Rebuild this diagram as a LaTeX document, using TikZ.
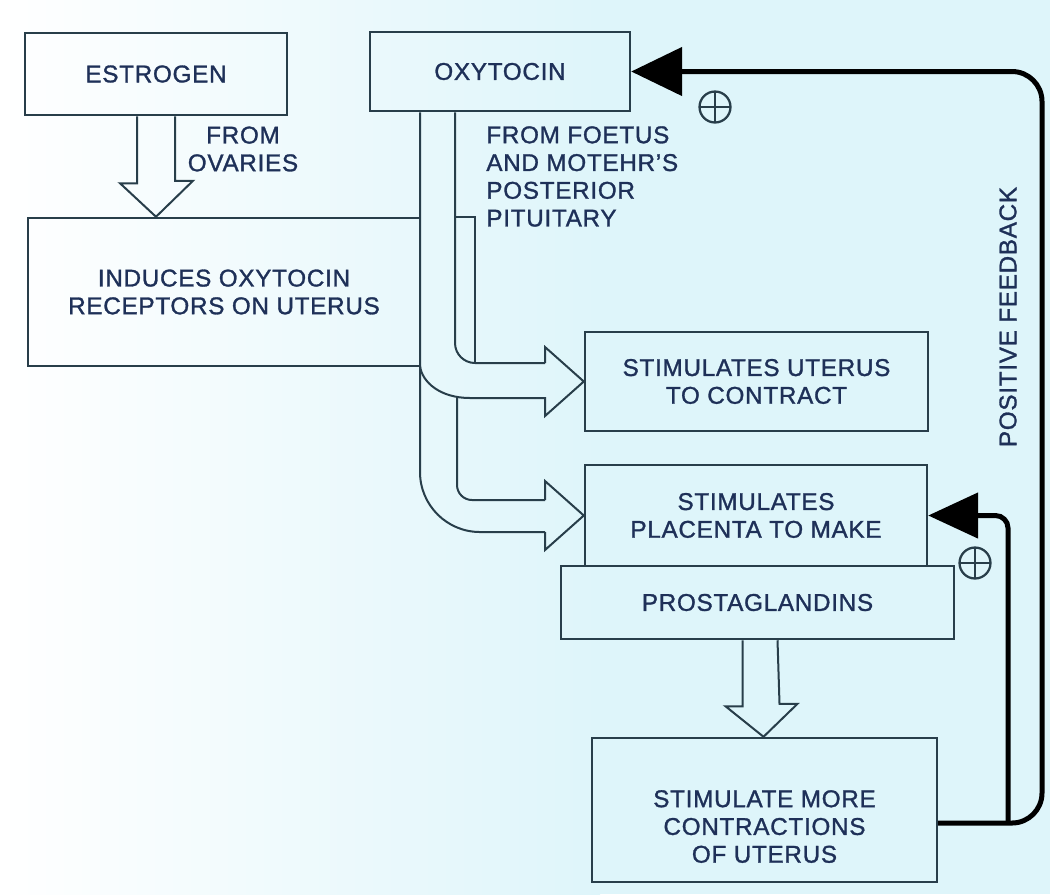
\documentclass[tikz,border=0pt]{standalone}
\usepackage{fontspec}
\setmainfont{Liberation Sans}[LetterSpace=3, FakeBold=1.2]
\usetikzlibrary{arrows.meta,calc}
\definecolor{bgc}{RGB}{222,245,250}
\definecolor{linec}{RGB}{40,62,74}
\definecolor{inkc}{RGB}{30,48,88}

\begin{document}
\begin{tikzpicture}[x=0.02cm, y=-0.02cm,
    font=\fontsize{13.8}{15.8}\selectfont,
    box/.style={draw=linec, line width=0.05cm, text=inkc, align=center, inner sep=0pt},
    pipe/.style={draw=linec, line width=0.04cm, line join=miter},
    fb/.style={draw=black, line width=0.1cm},
    lbl/.style={text=inkc, align=left, inner sep=0pt},
    plusmark/.style={circle, draw=linec, line width=0.045cm, minimum size=0.62cm, inner sep=0pt,
      path picture={\draw[linec, line width=0.045cm]
        (path picture bounding box.north) -- (path picture bounding box.south)
        (path picture bounding box.west) -- (path picture bounding box.east);}}]

    % background
    \shade[left color=white, right color=bgc] (0,0) rectangle (600,894);
    \fill[bgc] (600,0) rectangle (1050,894);
    \useasboundingbox (0,0) rectangle (1050,894);

    % hormone boxes
    \node[box, minimum width=5.24cm, minimum height=1.64cm] (estrogen) at (156,74) {ESTROGEN};
    \node[box, minimum width=5.2cm, minimum height=1.58cm] (oxy) at (500,71.5) {OXYTOCIN};
    \node[box, minimum width=7.84cm, minimum height=2.96cm] (induces) at (224,292) {INDUCES OXYTOCIN\\RECEPTORS ON UTERUS};

    % effect boxes
    \node[box, minimum width=6.86cm, minimum height=1.98cm] (uterus) at (756.5,381.5) {STIMULATES UTERUS\\TO CONTRACT};
    \node[box, minimum width=6.84cm, minimum height=2.02cm] (placenta) at (756,515.5) {STIMULATES\\PLACENTA TO MAKE};
    \node[box, minimum width=7.86cm, minimum height=1.46cm] (prosta) at (757.5,602.5) {PROSTAGLANDINS};
    \node[box, minimum width=6.9cm, minimum height=2.88cm] (more) at (764.5,810) {\rule{0pt}{1cm}STIMULATE MORE\\CONTRACTIONS\\OF UTERUS};

    % labels
    \node[lbl, align=center] (ovaries) at (243,149) {FROM\\OVARIES};
    \node[lbl, anchor=west] (source) at (486,176.5) {FROM FOETUS\\AND MOTEHR'S\\POSTERIOR\\PITUITARY};
    \node[lbl, rotate=90] (posfb) at (1008,317) {POSITIVE FEEDBACK};

    % estrogen arrow
    \draw[pipe] ($(estrogen.south)+(-19,0)$) -- ++(0,67) -- ++(-17,0) -- (estrogen.south |- induces.north)
      -- ++(37,-36) -- ++(-18,0) -- ($(estrogen.south)+(19,0)$);

    % oxytocin arrow to uterus
    \draw[pipe, rounded corners=0.4cm] (455,0 |- oxy.south) -- (455,363) -- (545,363);
    \draw[pipe] (455,0 |- induces.north) -- (475,0 |- induces.north) -- (475,363);
    \draw[pipe] (545,363) -- (545,347) -- (uterus.west) -- (545,416) -- (545,398) -- (470,398)
      .. controls (440,398) and (422,382) .. (420,366);

    % oxytocin arrow to placenta
    \draw[pipe, rounded corners=1.2cm] (420,0 |- oxy.south) -- (420,532) -- (545,532);
    \draw[pipe, rounded corners=0.3cm] (457,398) -- (457,500) -- (545,500);
    \draw[pipe] (545,500) -- (545,481) -- (placenta.west) -- (545,550) -- (545,532);

    % prostaglandins arrow
    \draw[pipe] ($(prosta.south)+(-15,0)$) -- ++(0,66) -- ++(-17,0) -- ($(more.north)+(-1,0)$)
      -- ++(34,-33) -- ++(-18,0) -- ($(prosta.south)+(20,0)$);

    % positive feedback
    \draw[fb, rounded corners=0.6cm, -{Triangle[length=1.02cm, width=0.96cm]}]
      (more.east |- 0,823) -- (1042,823) -- (1042,0 |- oxy.east) -- (oxy.east);
    \draw[fb, rounded corners=0.25cm, -{Triangle[length=1cm, width=0.9cm]}]
      (1008,823) -- (1008,0 |- placenta.east) -- (placenta.east);

    \node[plusmark] (plusA) at (715,107) {};
    \node[plusmark] (plusB) at (975,563) {};
\end{tikzpicture}
\end{document}
